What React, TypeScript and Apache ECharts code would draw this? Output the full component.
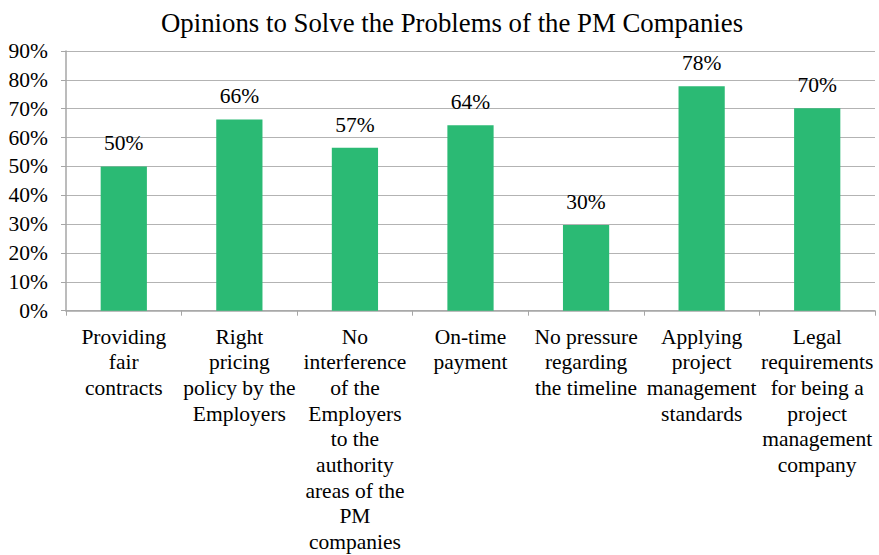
import React, { useEffect, useRef } from "react";
import * as echarts from "echarts";

const categories = [
  "Providing\nfair\ncontracts",
  "Right\npricing\npolicy by the\nEmployers",
  "No\ninterference\nof the\nEmployers\nto the\nauthority\nareas of the\nPM\ncompanies",
  "On-time\npayment",
  "No pressure\nregarding\nthe timeline",
  "Applying\nproject\nmanagement\nstandards",
  "Legal\nrequirements\nfor being a\nproject\nmanagement\ncompany",
];
const values = [50, 66.3, 56.5, 64.3, 29.7, 77.8, 70.2];
const yTicks = [0, 10, 20, 30, 40, 50, 60, 70, 80, 90];

const FONT = "Liberation Serif";

export default function App() {
  const ref = useRef<HTMLDivElement>(null);
  useEffect(() => {
    if (!ref.current) return;
    const chart = echarts.init(ref.current, null, { renderer: "svg" });
    chart.setOption({
      animation: false,
      textStyle: { fontFamily: FONT },
      title: {
        text: "Opinions to Solve the Problems of the PM Companies",
        left: 156,
        top: 4,
        textStyle: { fontFamily: FONT, fontSize: 26.8, fontWeight: "normal", color: "#000" },
      },
      grid: { left: 66, right: 4, top: 51, bottom: 242.5, containLabel: false },
      xAxis: {
        type: "category",
        data: categories,
        axisLine: { lineStyle: { color: "#a6a6a6", width: 1.5 } },
        axisTick: { show: true, length: 5, alignWithLabel: false, lineStyle: { color: "#a6a6a6" } },
        axisLabel: {
          interval: 0,
          margin: 13,
          fontFamily: FONT,
          fontSize: 21.5,
          lineHeight: 25.7,
          color: "#000",
          align: "center",
        },
      },
      yAxis: {
        type: "value",
        min: yTicks[0],
        max: yTicks[yTicks.length - 1],
        interval: 10,
        axisLine: { show: true, lineStyle: { color: "#a6a6a6", width: 1.5 } },
        axisTick: { show: true, length: 5, lineStyle: { color: "#a6a6a6" } },
        splitLine: { lineStyle: { color: "#b3b3b3", width: 1.2 } },
        axisLabel: {
          formatter: "{value}%",
          margin: 18,
          fontFamily: FONT,
          fontSize: 21.5,
          color: "#000",
        },
      },
      series: [
        {
          type: "bar",
          data: values,
          barWidth: "40%",
          itemStyle: { color: "#2bba74" },
          label: {
            show: true,
            position: "top",
            distance: 12,
            fontFamily: FONT,
            fontSize: 21.5,
            color: "#000",
            formatter: (p: any) => Math.round(p.value) + "%",
          },
        },
      ],
    });
    return () => chart.dispose();
  }, []);
  return <div ref={ref} style={{ width: 879, height: 555, position: "absolute", left: 0, top: 0, background: "#fff" }} />;
}
